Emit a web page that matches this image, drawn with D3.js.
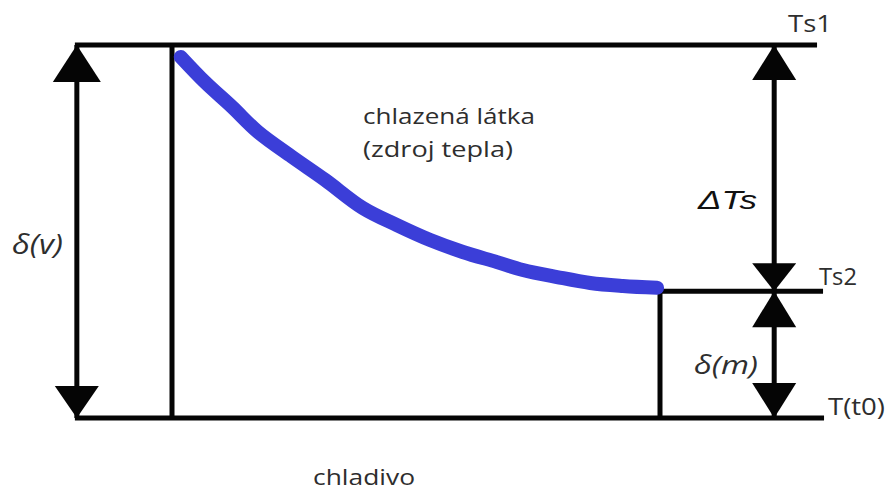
<!DOCTYPE html>
<html lang="en">
<head>
    <meta charset="UTF-8">
    <title>Chlazení</title>
    <script src="https://d3js.org/d3.v7.min.js"></script>
    <style>
        body { margin: 0; background: #fff; }
    </style>
</head>
<body>
    <div id="chart"></div>
    <script>
        // temperature levels (0 = T(t0), 1 = Ts1), time runs 0..1 between the two verticals
        var levelNames = ["Ts1", "Ts2", "T(t0)"];
        var levelValues = [1, 0.34, 0];

        // cooled substance temperature curve
        var curveT = [0.018, 0.068, 0.123, 0.176, 0.246, 0.314, 0.391, 0.461, 0.529, 0.596, 0.666, 0.719, 0.789, 0.857, 0.924, 0.994];
        var curveTemp = [0.968, 0.900, 0.834, 0.767, 0.700, 0.638, 0.563, 0.517, 0.477, 0.445, 0.418, 0.397, 0.378, 0.362, 0.354, 0.349];

        var bodyLabels = ["chlazená látka", "(zdroj tepla)", "chladivo"];
        var spanLabels = ["δ(v)", "ΔTs", "δ(m)"];

        var width = 887, height = 490;

        var svg = d3.select("#chart")
            .append("svg")
            .attr("width", width)
            .attr("height", height);

        // scales
        var x = d3.scaleLinear().domain([0, 1]).range([172, 660]);
        var y = d3.scaleLinear().domain([0, 1]).range([418, 45]);

        var lineStart = -0.199, lineEnd = 1.33;
        var leftArrow = -0.195, rightArrow = 1.234;

        var ink = "#050505";

        // horizontal level lines
        svg.append("line")
            .attr("x1", x(lineStart)).attr("x2", x(lineEnd) - 4)
            .attr("y1", y(levelValues[0])).attr("y2", y(levelValues[0]))
            .attr("stroke", ink).attr("stroke-width", 5);
        svg.append("line")
            .attr("x1", x(lineStart)).attr("x2", x(lineEnd) + 3)
            .attr("y1", y(levelValues[2])).attr("y2", y(levelValues[2]))
            .attr("stroke", ink).attr("stroke-width", 5);
        svg.append("line")
            .attr("x1", x(1)).attr("x2", x(lineEnd) + 2)
            .attr("y1", y(levelValues[1])).attr("y2", y(levelValues[1]))
            .attr("stroke", ink).attr("stroke-width", 5);

        // vertical bounds
        svg.append("line")
            .attr("x1", x(0)).attr("x2", x(0))
            .attr("y1", y(1)).attr("y2", y(0))
            .attr("stroke", ink).attr("stroke-width", 5);
        svg.append("line")
            .attr("x1", x(1)).attr("x2", x(1))
            .attr("y1", y(levelValues[1])).attr("y2", y(0))
            .attr("stroke", ink).attr("stroke-width", 5);

        // arrow shafts
        [leftArrow, rightArrow].forEach(function(t) {
            svg.append("line")
                .attr("x1", x(t)).attr("x2", x(t))
                .attr("y1", y(1)).attr("y2", y(0))
                .attr("stroke", ink).attr("stroke-width", 5);
        });

        // triangle heads: apex at (cx, ay), dir -1 = up, +1 = down
        function head(cx, ay, dir, hw, h) {
            var by = ay - dir * h;
            svg.append("path")
                .attr("d", "M" + cx + "," + ay + "L" + (cx - hw) + "," + by + "L" + (cx + hw) + "," + by + "Z")
                .attr("fill", ink);
        }
        head(x(leftArrow), y(1), -1, 24, 37);
        head(x(leftArrow), y(0), 1, 22, 32);
        head(x(rightArrow), y(1), -1, 22, 35);
        head(x(rightArrow), y(levelValues[1]), 1, 22, 28);
        head(x(rightArrow), y(levelValues[1]), -1, 22, 36);
        head(x(rightArrow), y(0), 1, 22, 35);

        // blue curve
        var pts = curveT.map(function(t, i) { return [t, curveTemp[i]]; });
        var line = d3.line()
            .x(function(d) { return x(d[0]); })
            .y(function(d) { return y(d[1]); })
            .curve(d3.curveCatmullRom);
        svg.append("path")
            .datum(pts)
            .attr("d", line)
            .attr("fill", "none")
            .attr("stroke", "#3b3ed8")
            .attr("stroke-width", 14)
            .attr("stroke-linecap", "round")
            .attr("stroke-linejoin", "round");

        // text helper, stretched to the measured width
        function label(txt, lx, ly, size, len, opts) {
            opts = opts || {};
            svg.append("text")
                .attr("x", lx).attr("y", ly)
                .attr("font-family", opts.family || "'Open Sans', sans-serif")
                .attr("font-style", opts.italic ? "italic" : "normal")
                .attr("font-size", size)
                .attr("fill", opts.color || "#2e2e2e")
                .attr("textLength", len)
                .attr("lengthAdjust", "spacingAndGlyphs")
                .text(txt);
        }

        label(levelNames[0], 788, y(levelValues[0]) - 13, 24, 44);
        label(levelNames[1], 819, y(levelValues[1]) - 6, 24, 38);
        label(levelNames[2], 828, y(levelValues[2]) - 3, 24, 57);

        label(bodyLabels[0], 363, 124, 22, 172);
        label(bodyLabels[1], 363, 157, 22, 150);
        label(bodyLabels[2], 313, 485, 22, 102);

        label(spanLabels[0], 12, 254, 28, 51, {italic: true});
        label(spanLabels[1], 698, 209, 25, 59, {italic: true, family: "'Liberation Sans', Arial, sans-serif", color: "#111"});
        label(spanLabels[2], 694, 374, 25, 64, {italic: true});
    </script>
</body>
</html>
